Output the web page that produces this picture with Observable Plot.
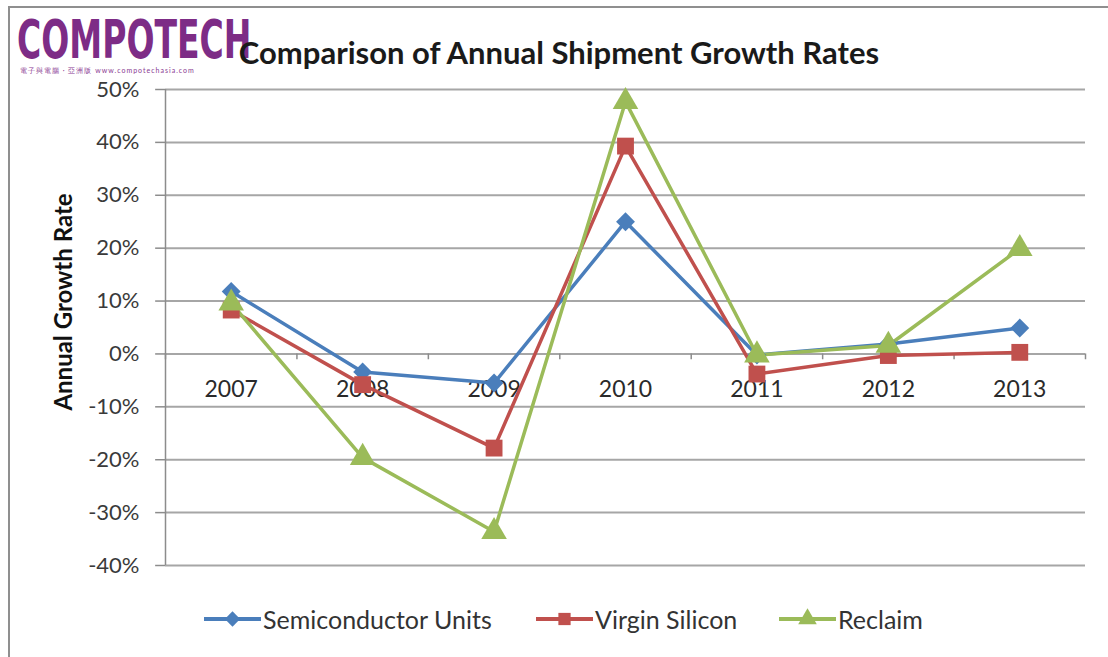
<!DOCTYPE html>
<html>
<head>
<meta charset="utf-8">
<script src="https://cdn.jsdelivr.net/npm/d3@7"></script>
<script src="https://cdn.jsdelivr.net/npm/@observablehq/plot@0.6"></script>
<style>
  body { margin: 0; background: #fff; }
  #wrap { position: relative; width: 1108px; height: 657px; overflow: hidden; font-family: Lato, "Open Sans", sans-serif; }
  #frame { position: absolute; left: 8px; top: 6px; width: 1110px; height: 670px; border-top: 2px solid #8f8f8f; border-left: 2px solid #8f8f8f; box-sizing: border-box; }
  #logo { position: absolute; left: 17px; top: 19px; color: #7d2c86; font-family: "DejaVu Sans Condensed", "DejaVu Sans", sans-serif; font-weight: bold; font-size: 54px; transform-origin: left top; transform: scaleX(0.68); line-height: 42px; height: 42px; }
  #logosub { position: absolute; left: 20px; top: 66px; color: #8a3a92; font-size: 7px; line-height: 8px; letter-spacing: 1px; white-space: nowrap; }
  #title { position: absolute; left: 0; width: 1118px; top: 33px; text-align: center; font-weight: bold; font-size: 31px; color: #1a1a1a; }
  #ytitle { position: absolute; left: 62px; top: 302px; transform: translate(-50%, -50%) rotate(-90deg); font-weight: bold; font-size: 24px; color: #111; white-space: nowrap; }
  #legend { position: absolute; top: 604px; left: 0; width: 1108px; height: 34px; }
  .li { position: absolute; top: 0; display: flex; align-items: center; font-size: 25px; color: #333; white-space: nowrap; }
  .li svg { margin-right: 2px; }
</style>
</head>
<body>
<div id="wrap">
  <div id="frame"></div>
  <div id="chart"></div>
  <div id="logo">COMPOTECH</div>
  <div id="logosub">電子與電腦 · 亞洲版 www.compotechasia.com</div>
  <div id="title">Comparison of Annual Shipment Growth Rates</div>
  <div id="ytitle">Annual Growth Rate</div>
  <div id="legend"></div>
</div>
<script>
const years = [2007, 2008, 2009, 2010, 2011, 2012, 2013];
const semiconductorUnits = [11.8, -3.4, -5.5, 25.0, -0.2, 1.9, 4.9];
const virginSilicon = [8.3, -5.8, -17.8, 39.3, -3.8, -0.3, 0.3];
const reclaim = [9.6, -19.6, -33.6, 47.7, -0.2, 1.6, 19.9];
const yTicks = [50, 40, 30, 20, 10, 0, -10, -20, -30, -40];
const seriesNames = ["Semiconductor Units", "Virgin Silicon", "Reclaim"];
const seriesColors = ["#4a7ebb", "#c0504d", "#9bbb59"];
const seriesSymbols = ["diamond2", "square", "triangle"];

const seriesValues = [semiconductorUnits, virginSilicon, reclaim];
const rows = seriesNames.flatMap((s, i) => years.map((y, j) => ({series: s, year: y, value: seriesValues[i][j]})));
const x0 = years[0] - 0.5;
const boundaries = d3.range(years.length + 1).map(i => x0 + i);
const symbolR = {"Semiconductor Units": 8.5, "Virgin Silicon": 9.5, "Reclaim": 9.5};

const marks = [
  Plot.ruleY(yTicks, {y: d => d, x1: x0, x2: years[years.length - 1] + 0.5, stroke: "#a6a6a6", strokeWidth: 2}),
  Plot.ruleY(yTicks, {y: d => d, x1: x0 - 0.075, x2: x0, stroke: "#8c8c8c", strokeWidth: 1.5}),
  Plot.ruleX([x0], {y1: -40, y2: 50, stroke: "#8c8c8c", strokeWidth: 1.5}),
  Plot.ruleX(boundaries, {x: d => d, y1: 0, y2: -1.1, stroke: "#8c8c8c", strokeWidth: 1.5}),
  Plot.text(yTicks, {x: x0, y: d => d, text: d => d + "%", textAnchor: "end", dx: -26, fontSize: 22, fill: "#3a3a3a"}),
  Plot.text(years, {x: d => d, y: 0, text: d => String(d), dy: 36, fontSize: 23, fill: "#2a2a2a"})
];
seriesNames.forEach((s, i) => {
  const data = rows.filter(r => r.series === s);
  marks.push(Plot.line(data, {x: "year", y: "value", stroke: seriesColors[i], strokeWidth: 3.5}));
});
seriesNames.forEach((s, i) => {
  const data = rows.filter(r => r.series === s);
  marks.push(Plot.dot(data, {x: "year", y: "value", symbol: () => seriesSymbols[i], fill: seriesColors[i], stroke: "none", r: symbolR[s]}));
});

const chart = Plot.plot({
  width: 1108,
  height: 657,
  marginTop: 89,
  marginBottom: 92,
  marginLeft: 165,
  marginRight: 23,
  style: {fontFamily: "Lato, 'Open Sans', sans-serif", background: "transparent"},
  x: {type: "linear", domain: [x0, years[years.length - 1] + 0.5], axis: null},
  y: {domain: [-40, 50], axis: null},
  symbol: {type: "identity"},
  marks
});
document.getElementById("chart").appendChild(chart);

// legend
const legend = document.getElementById("legend");
const legendX = [204, 536, 779];
const symMap = {"diamond2": d3.symbolDiamond2, "square": d3.symbolSquare, "triangle": d3.symbolTriangle};
seriesNames.forEach((s, i) => {
  const d = document.createElement("div");
  d.className = "li";
  d.style.left = legendX[i] + "px";
  const w = 57;
  const sym = d3.symbol(symMap[seriesSymbols[i]], 150)();
  d.innerHTML = `<svg width="${w}" height="30"><line x1="0" x2="${w}" y1="15" y2="15" stroke="${seriesColors[i]}" stroke-width="4"/><path d="${sym}" transform="translate(${w/2},15)" fill="${seriesColors[i]}"/></svg><span>${s}</span>`;
  legend.appendChild(d);
});
</script>
</body>
</html>
